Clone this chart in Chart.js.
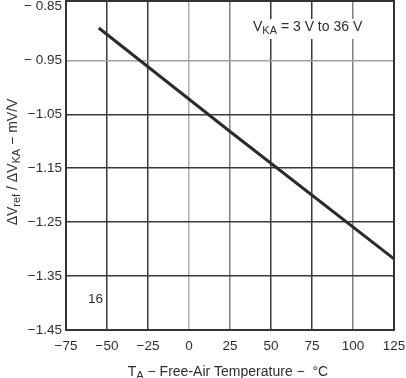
<!DOCTYPE html>
<html>
<head>
<meta charset="utf-8">
<script src="https://cdn.jsdelivr.net/npm/chart.js@4"></script>
<style>
    body { margin: 0; background: #fff; }
    #wrap { width: 406px; height: 378px; position: relative; }
</style>
</head>
<body>
<div id="wrap"><canvas id="drift_chart"></canvas></div>
<script>
// values
const temperatures = [-55, 25, 125];
const ratio_mv_per_v = [-0.890, -1.082, -1.318];

const x_ticks = [-75, -50, -25, 0, 25, 50, 75, 100, 125];
const x_tick_labels = ['\u221275', '\u221250', '\u221225', '0', '25', '50', '75', '100', '125'];
const y_ticks = [-1.45, -1.35, -1.25, -1.15, -1.05, -0.95, -0.85];
const y_tick_labels = ['\u22121.45', '\u22121.35', '\u22121.25', '\u22121.15', '\u22121.05', '\u2212 0.95', '\u2212 0.85'];

const font_family = '"Liberation Sans", Arial, sans-serif';
const text_colour = '#2e2e2e';

function grid_colour_x(value) {
    if (value === 0) return '#b0b0b0';
    if (value === 25 || value === 100) return '#808080';
    return '#3a3a3a';
}

function grid_colour_y(value) {
    if (Math.abs(value + 0.85) < 1e-6) return 'rgba(0,0,0,0)';
    if (Math.abs(value + 0.95) < 1e-6) return '#a0a0a0';
    return '#3a3a3a';
}

// draws text pieces with subscripts, starting at x,y (baseline)
function draw_pieces(ctx, pieces, x, y) {
    let cursor = x;
    for (const p of pieces) {
        ctx.font = (p.sub ? '11px ' : '14px ') + font_family;
        ctx.fillText(p.text, cursor, y + (p.sub ? 3 : 0));
        cursor += ctx.measureText(p.text).width;
    }
}

function pieces_width(ctx, pieces) {
    let w = 0;
    for (const p of pieces) {
        ctx.font = (p.sub ? '11px ' : '14px ') + font_family;
        w += ctx.measureText(p.text).width;
    }
    return w;
}

const extras = {
    id: 'extras',
    beforeDatasetsDraw(chart) {
        const ctx = chart.ctx;
        const xs = chart.scales.x;
        const ys = chart.scales.y;
        ctx.save();
        // note box
        const note = [
            { text: 'V' }, { text: 'KA', sub: true }, { text: ' = 3 V to 36 V' }
        ];
        ctx.fillStyle = '#ffffff';
        ctx.fillRect(245, 19, 124, 20);
        ctx.fillStyle = text_colour;
        ctx.textBaseline = 'alphabetic';
        draw_pieces(ctx, note, 253, 31);

        ctx.font = '13.5px ' + font_family;
        ctx.textAlign = 'center';
        ctx.fillText('16', xs.getPixelForValue(-57), ys.getPixelForValue(-1.391) + 5);
        ctx.restore();
    },
    afterDraw(chart) {
        const ctx = chart.ctx;
        const area = chart.chartArea;
        ctx.save();
        ctx.strokeStyle = '#333';
        ctx.lineWidth = 2;
        ctx.strokeRect(area.left, area.top, area.right - area.left, area.bottom - area.top);

        ctx.fillStyle = text_colour;
        ctx.textAlign = 'left';
        ctx.textBaseline = 'alphabetic';

        const x_title = [
            { text: 'T' }, { text: 'A', sub: true }, { text: ' \u2212 Free-Air Temperature \u2212  \u00b0C' }
        ];
        const xw = pieces_width(ctx, x_title);
        draw_pieces(ctx, x_title, 228 - xw / 2, 376);

        const y_title = [
            { text: '\u0394V' }, { text: 'ref', sub: true }, { text: ' / \u0394V' },
            { text: 'KA', sub: true }, { text: ' \u2212 mV/V' }
        ];
        const yw = pieces_width(ctx, y_title);
        ctx.translate(17, 162);
        ctx.rotate(-Math.PI / 2);
        draw_pieces(ctx, y_title, -yw / 2, 0);
        ctx.restore();
    }
};

const chart = new Chart(document.getElementById('drift_chart'), {
    type: 'line',
    data: {
        datasets: [{
            data: temperatures.map((t, i) => ({ x: t, y: ratio_mv_per_v[i] })),
            borderColor: '#2b2b2b',
            borderWidth: 3,
            pointRadius: 0,
            tension: 0
        }]
    },
    options: {
        responsive: true,
        maintainAspectRatio: false,
        animation: false,
        layout: { padding: { top: 1, right: 12, bottom: 0, left: 0 } },
        plugins: { legend: { display: false }, tooltip: { enabled: false } },
        scales: {
            x: {
                type: 'linear',
                min: -75,
                max: 125,
                afterBuildTicks: axis => { axis.ticks = x_ticks.map(v => ({ value: v })); },
                afterFit: axis => {
                    axis.height = 48;
                    axis.paddingLeft = 0;
                    axis.paddingRight = 0;
                },
                grid: {
                    color: ctx => grid_colour_x(ctx.tick ? ctx.tick.value : null),
                    lineWidth: 1.5,
                    drawTicks: false
                },
                border: { display: false },
                ticks: {
                    padding: 8,
                    maxRotation: 0,
                    autoSkip: false,
                    color: text_colour,
                    font: { family: font_family, size: 13.5 },
                    callback: value => x_tick_labels[x_ticks.indexOf(value)]
                }
            },
            y: {
                min: -1.45,
                max: -0.84,
                afterBuildTicks: axis => { axis.ticks = y_ticks.map(v => ({ value: v })); },
                afterFit: axis => {
                    axis.width = 66;
                    axis.paddingTop = 0;
                    axis.paddingBottom = 0;
                },
                grid: {
                    color: ctx => grid_colour_y(ctx.tick ? ctx.tick.value : null),
                    lineWidth: 1.5,
                    drawTicks: false
                },
                border: { display: false },
                ticks: {
                    padding: 4,
                    autoSkip: false,
                    color: text_colour,
                    font: { family: font_family, size: 13.5 },
                    callback: (value, index) => y_tick_labels[index]
                }
            }
        }
    },
    plugins: [extras]
});
</script>
</body>
</html>
